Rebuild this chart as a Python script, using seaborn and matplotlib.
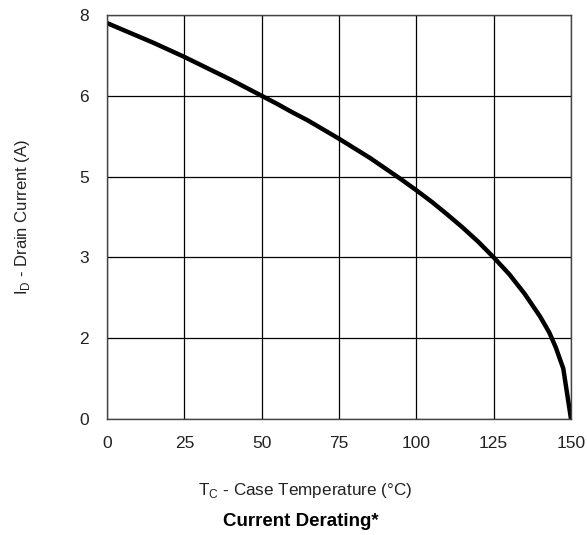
import numpy as np
import pandas as pd
import matplotlib
matplotlib.use("Agg")
import matplotlib.pyplot as plt
import seaborn as sns

# Data (dense readings along the curve)
temp_c = [0, 5, 10, 15, 20, 25, 30, 35, 40, 45, 50, 55, 60, 65, 70, 75, 80, 85, 90,
          95, 100, 105, 110, 115, 120, 125, 130, 135, 140, 143, 145, 147.5, 150]
drain_a = [7.84, 7.71, 7.58, 7.45, 7.31, 7.17, 7.02, 6.87, 6.72, 6.56, 6.40, 6.24, 6.07,
           5.91, 5.73, 5.55, 5.36, 5.17, 4.96, 4.75, 4.53, 4.30, 4.05, 3.79, 3.51, 3.20,
           2.87, 2.48, 2.03, 1.71, 1.43, 1.00, 0.0]
x_ticks = [0, 25, 50, 75, 100, 125, 150]
y_ticks = [0, 1.6, 3.2, 4.8, 6.4, 8.0]
y_tick_labels = ["0", "2", "3", "5", "6", "8"]

sns.set_theme(style="white")
plt.rcParams['font.family'] = ['Liberation Sans', 'DejaVu Sans']
plt.rcParams['mathtext.fontset'] = 'custom'
plt.rcParams['mathtext.rm'] = 'Liberation Sans'

df = pd.DataFrame({"T": temp_c, "I": drain_a})

fig = plt.figure(figsize=(5.87, 5.35), dpi=100)
ax = fig.add_axes([107/587, 1-419/535, (571-107)/587, (419-15)/535])

sns.lineplot(data=df, x="T", y="I", ax=ax, color="black", linewidth=3.2, sort=False)

ax.set_xlim(0, 150)
ax.set_ylim(0, 8)
ax.set_xticks(x_ticks)
ax.set_xticklabels([str(t) for t in x_ticks])
ax.set_yticks(y_ticks)
ax.set_yticklabels(y_tick_labels)
ax.grid(True, color="black", linewidth=0.9)
ax.set_axisbelow(True)
for s in ax.spines.values():
    s.set_color("#444444")
    s.set_linewidth(1.0)
    s.set_visible(True)
ax.tick_params(axis="both", length=0, labelsize=12.5, colors="#222222")
ax.tick_params(axis="x", pad=12)
ax.tick_params(axis="y", pad=13)
ax.set_xlabel("")
ax.set_ylabel(r"I$_\mathregular{D}$ - Drain Current (A)", fontsize=12, color="#222222", labelpad=34)

fig.text(305/587, 1-490/535, r"T$_\mathregular{C}$ - Case Temperature (°C)", ha="center", va="center",
         fontsize=12.3, color="#222222")
fig.text(301/587, 1-522/535, "Current Derating*", ha="center", va="center",
         fontsize=13.5, fontweight="bold", color="black")

fig.savefig("out.png", dpi=100)
